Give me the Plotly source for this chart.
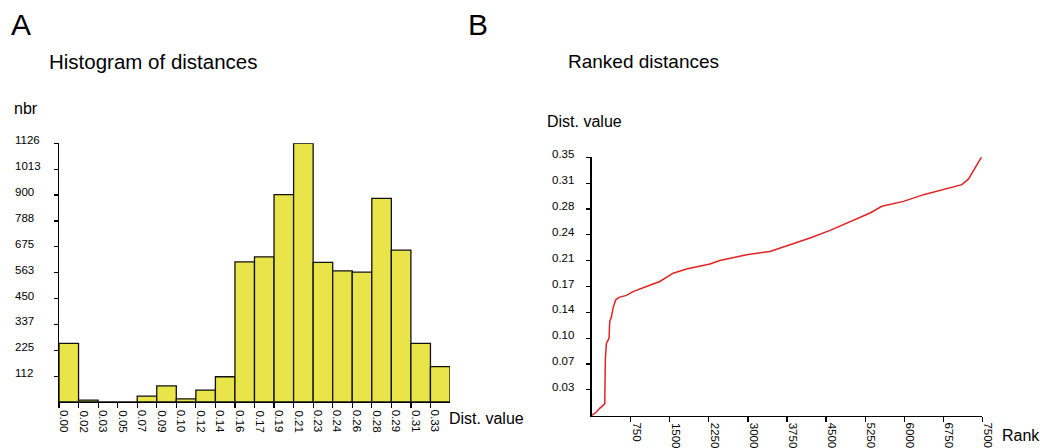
import plotly.graph_objects as go

W, H = 1040, 448
FONT = "Liberation Sans, Arial, sans-serif"

# ---------------- data ----------------
bin_labels = ["0.00", "0.02", "0.03", "0.05", "0.07", "0.09", "0.10", "0.12", "0.14", "0.16",
              "0.17", "0.19", "0.21", "0.23", "0.24", "0.26", "0.28", "0.29", "0.31", "0.33"]
bin_counts = [255, 8, 0, 0, 26, 70, 14, 52, 110, 610,
              632, 903, 1126, 608, 571, 565, 886, 661, 255, 154]
count_tick_vals = [112.6, 225.2, 337.8, 450.4, 563.0, 675.6, 788.2, 900.8, 1013.4, 1126.0]
count_tick_labels = ["112", "225", "337", "450", "563", "675", "788", "900", "1013", "1126"]

rank = [0, 90, 154, 231, 250, 263, 282, 333, 346, 379, 410, 461, 538, 667, 795, 1051, 1308,
        1564, 1821, 2269, 2462, 2975, 3423, 3808, 4192, 4577, 4962, 5346, 5571, 5987, 6371,
        6756, 7109, 7237, 7365, 7462, 7500]
dist_value = [0.0, 0.005, 0.010, 0.0145, 0.016, 0.078, 0.098, 0.105, 0.1275, 0.134, 0.1457,
              0.157, 0.1606, 0.163, 0.168, 0.175, 0.1818, 0.193, 0.1986, 0.2054, 0.2103, 0.218,
              0.2225, 0.2316, 0.2407, 0.251, 0.2632, 0.2746, 0.2836, 0.2903, 0.2994, 0.3062,
              0.313, 0.3207, 0.3356, 0.3469, 0.3523]
rank_tick_vals = [750, 1500, 2250, 3000, 3750, 4500, 5250, 6000, 6750, 7500]
rank_tick_labels = ["750", "1500", "2250", "3000", "3750", "4500", "5250", "6000", "6750", "7500"]
dist_tick_vals = [0.035, 0.07, 0.105, 0.14, 0.175, 0.21, 0.245, 0.28, 0.315, 0.35]
dist_tick_labels = ["0.03", "0.07", "0.10", "0.14", "0.17", "0.21", "0.24", "0.28", "0.31", "0.35"]

# ---------------- figure ----------------
fig = go.Figure()

fig.add_trace(go.Bar(
    x=[i + 0.5 for i in range(len(bin_counts))], y=bin_counts, width=1.0,
    marker=dict(color="#e8e44a", line=dict(color="#111111", width=1.3)),
    xaxis="x", yaxis="y", showlegend=False, hoverinfo="skip",
))

fig.add_trace(go.Scatter(
    x=rank, y=dist_value, mode="lines",
    line=dict(color="#e02424", width=1.5),
    xaxis="x2", yaxis="y2", showlegend=False, cliponaxis=False, hoverinfo="skip",
))

def px(x):
    return x / W

def py(y):
    return 1 - y / H

axis_common = dict(showgrid=False, zeroline=False, showline=True, linecolor="black",
                   linewidth=1.3, ticks="outside", tickcolor="black", tickwidth=1.2,
                   showticklabels=False, fixedrange=True)

fig.update_layout(
    width=W, height=H,
    margin=dict(l=0, r=0, t=0, b=0),
    paper_bgcolor="white", plot_bgcolor="white",
    font=dict(family=FONT, color="black"),
    bargap=0,
    xaxis=dict(domain=[px(59), px(450)], range=[0, 20], tickvals=list(range(len(bin_labels))),
               ticklen=5, anchor="y", **axis_common),
    yaxis=dict(domain=[py(402), py(143.3)], range=[0, 1126], tickvals=count_tick_vals,
               ticklen=4, anchor="x", **axis_common),
    xaxis2=dict(domain=[px(591.7), px(982.3)], range=[0, 7500], tickvals=rank_tick_vals,
                ticklen=5, anchor="y2", **axis_common),
    yaxis2=dict(domain=[py(415.7), py(157.3)], range=[0, 0.35], tickvals=dist_tick_vals,
                ticklen=4, anchor="x2", **axis_common),
)

ann = []
TICK_FS = 11.5

# histogram y tick labels (left aligned)
for v, t in zip(count_tick_vals, count_tick_labels):
    ann.append(dict(x=px(13), xref="paper", y=v, yref="y", text=t, showarrow=False,
                    xanchor="left", yanchor="middle", yshift=3,
                    font=dict(size=TICK_FS, family=FONT, color="black")))
# histogram x tick labels (rotated)
for i, t in enumerate(bin_labels):
    ann.append(dict(x=i, xref="x", y=0, yref="y", text=t, showarrow=False, textangle=90,
                    xanchor="left", yanchor="top", xshift=-3, yshift=-6,
                    font=dict(size=TICK_FS, family=FONT, color="black")))
# ranked y tick labels
for v, t in zip(dist_tick_vals, dist_tick_labels):
    ann.append(dict(x=px(550), xref="paper", y=v, yref="y2", text=t, showarrow=False,
                    xanchor="left", yanchor="middle", yshift=3,
                    font=dict(size=TICK_FS, family=FONT, color="black")))
# ranked x tick labels (rotated)
for v, t in zip(rank_tick_vals, rank_tick_labels):
    ann.append(dict(x=v, xref="x2", y=0, yref="y2", text=t, showarrow=False, textangle=90,
                    xanchor="left", yanchor="top", xshift=-2, yshift=-5,
                    font=dict(size=TICK_FS, family=FONT, color="black")))

def label(text, x, y, size, anchor="left"):
    ann.append(dict(x=px(x), y=py(y), xref="paper", yref="paper", text=text, showarrow=False,
                    xanchor=anchor, yanchor="middle",
                    font=dict(size=size, family=FONT, color="black")))

label("A", 9, 25, 30)
label("B", 466, 25, 30)
label("Histogram of distances", 47, 61, 20.5)
label("Ranked distances", 566, 61, 19)
label("nbr", 12, 108, 16)
label("Dist. value", 447, 418, 16)
label("Dist. value", 545, 121, 16)
label("Rank", 1000, 435, 16)

fig.update_layout(annotations=ann)

fig.write_html(
    "out.html",
    config={"displayModeBar": False, "staticPlot": True},
    post_script="document.body.style.margin='0';document.body.style.overflow='hidden';",
)
